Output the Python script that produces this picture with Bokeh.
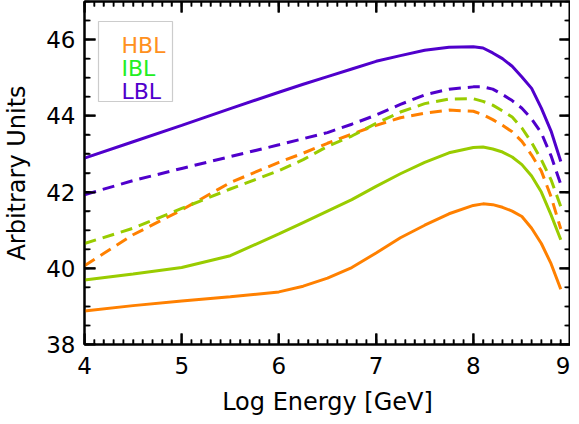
from bokeh.plotting import figure
from bokeh.models import (SingleIntervalTicker, Range1d, Label, BoxAnnotation,
                          LinearAxis, CustomJSTickFormatter)
from bokeh.embed import file_html
from bokeh.resources import INLINE

# ---- data ----
log_energy = [4.0, 4.5, 5.0, 5.5, 6.0, 6.25, 6.5, 6.75, 7.0, 7.25, 7.5, 7.75,
              8.0, 8.1, 8.2, 8.3, 8.4, 8.5, 8.6, 8.7, 8.8, 8.9]

hbl_solid = [38.88, 39.02, 39.14, 39.25, 39.38, 39.53, 39.74, 40.02, 40.40, 40.80,
             41.13, 41.43, 41.65, 41.69, 41.67, 41.60, 41.50, 41.36, 41.05, 40.65,
             40.12, 39.45]
ibl_solid = [39.69, 39.85, 40.02, 40.33, 40.90, 41.20, 41.50, 41.80, 42.15, 42.48,
             42.78, 43.03, 43.17, 43.18, 43.13, 43.05, 42.92, 42.72, 42.42, 42.00,
             41.40, 40.75]
lbl_solid = [42.89, 43.32, 43.75, 44.19, 44.62, 44.83, 45.03, 45.23, 45.43, 45.58,
             45.72, 45.80, 45.81, 45.78, 45.65, 45.50, 45.30, 45.02, 44.72, 44.20,
             43.60, 42.80]

hbl_dashed = [40.07, 40.88, 41.53, 42.25, 42.78, 43.02, 43.28, 43.52, 43.75, 43.95,
              44.07, 44.15, 44.12, 44.03, 43.90, 43.75, 43.58, 43.33, 42.97, 42.55,
              41.88, 41.03]
ibl_dashed = [40.65, 41.05, 41.57, 42.08, 42.56, 42.85, 43.20, 43.47, 43.80, 44.10,
              44.32, 44.44, 44.45, 44.38, 44.28, 44.13, 43.97, 43.68, 43.30, 42.85,
              42.32, 41.62]
lbl_dashed = [41.93, 42.30, 42.62, 42.93, 43.24, 43.40, 43.56, 43.78, 44.02, 44.30,
              44.55, 44.70, 44.76, 44.76, 44.70, 44.56, 44.40, 44.20, 43.92, 43.55,
              42.95, 42.20]

series_names = ["HBL", "IBL", "LBL"]
line_colors = ["#FF8000", "#99CC00", "#5000CC"]
legend_colors = ["#FF9020", "#22EE22", "#5000CC"]

# axis ticks
x_major_ticks = [4, 5, 6, 7, 8, 9]
y_major_ticks = [38, 40, 42, 44, 46]
x_minor_step = 0.1
y_minor_step = 0.5
X_MIN, X_MAX = 4, 9
Y_MIN, Y_MAX = 38, 47

FONT = "DejaVu Sans"
FRAME_W, FRAME_H = 486, 343
NAN = float("nan")

p = figure(frame_width=FRAME_W, frame_height=FRAME_H, x_range=Range1d(X_MIN, X_MAX),
           y_range=Range1d(Y_MIN, Y_MAX),
           output_backend="svg", toolbar_location=None,
           min_border_left=77, min_border_right=0, min_border_top=1,
           min_border_bottom=0)
p.background_fill_color = "white"
p.border_fill_color = "white"
p.outline_line_color = "black"
p.outline_line_width = 2
p.xgrid.visible = False
p.ygrid.visible = False

def style_ticks(ax):
    ax.major_tick_in = 11
    ax.major_tick_out = 0
    ax.minor_tick_in = 5
    ax.minor_tick_out = 0
    ax.major_tick_line_color = "black"
    ax.minor_tick_line_color = "black"
    ax.major_tick_line_width = 2
    ax.minor_tick_line_width = 1.5
    ax.axis_line_color = "black"
    ax.axis_line_width = 2

p.xaxis.ticker = SingleIntervalTicker(interval=1, num_minor_ticks=10)
p.yaxis.ticker = SingleIntervalTicker(interval=2, num_minor_ticks=4)
for ax in (p.xaxis[0], p.yaxis[0]):
    ax.major_label_text_font = FONT
    ax.major_label_text_font_size = "23px"
    ax.major_label_text_color = "black"
    ax.axis_label_text_font = FONT
    ax.axis_label_text_font_size = "24px"
    ax.axis_label_text_font_style = "normal"
    ax.axis_label_text_color = "black"
    style_ticks(ax)

p.xaxis.axis_label = "Log Energy [GeV]"
p.yaxis.axis_label = "Arbitrary Units"
p.xaxis.major_label_standoff = 12
p.yaxis.major_label_standoff = 9
p.xaxis.axis_label_standoff = 11
p.yaxis.axis_label_standoff = 12

# mirrored tick axes on top and right (no labels)
for loc, interval, nminor in (("above", 1, 10), ("right", 2, 4)):
    ax = LinearAxis(ticker=SingleIntervalTicker(interval=interval,
                                                num_minor_ticks=nminor),
                    formatter=CustomJSTickFormatter(code="return ''"),
                    major_label_standoff=0)
    style_ticks(ax)
    p.add_layout(ax, loc)

# tick marks also drawn as line paths (inward, all four sides)
def frange(a, b, step):
    n = int(round((b - a) / step))
    return [a + i * step for i in range(n + 1)]

x_minor = [v for v in frange(X_MIN, X_MAX, x_minor_step)
           if all(abs(v - m) > 1e-6 for m in x_major_ticks)]
y_minor = [v for v in frange(Y_MIN, Y_MAX, y_minor_step)
           if all(abs(v - m) > 1e-6 for m in y_major_ticks)]

px_x = (X_MAX - X_MIN) / FRAME_W   # data units per pixel
px_y = (Y_MAX - Y_MIN) / FRAME_H

def xtick_path(xticks, ln):
    xs, ys = [], []
    for t in xticks:
        xs += [t, t, NAN, t, t, NAN]
        ys += [Y_MIN, Y_MIN + ln * px_y, NAN, Y_MAX, Y_MAX - ln * px_y, NAN]
    return xs, ys

def ytick_path(yticks, ln):
    xs, ys = [], []
    for t in yticks:
        xs += [X_MIN, X_MIN + ln * px_x, NAN, X_MAX, X_MAX - ln * px_x, NAN]
        ys += [t, t, NAN, t, t, NAN]
    return xs, ys

for (xs, ys), w in ((xtick_path(x_major_ticks, 11), 2),
                    (xtick_path(x_minor, 5), 1.5),
                    (ytick_path(y_major_ticks, 11), 2),
                    (ytick_path(y_minor, 6), 1.5)):
    p.line(xs, ys, line_color="black", line_width=w)

solids = [hbl_solid, ibl_solid, lbl_solid]
dashes = [hbl_dashed, ibl_dashed, lbl_dashed]
for ys, c in zip(dashes, line_colors):
    p.line(log_energy, ys, line_color=c, line_width=3, line_dash="12 7")
for ys, c in zip(solids, line_colors):
    p.line(log_energy, ys, line_color=c, line_width=3)

box = BoxAnnotation(left=14, right=88, bottom=243, top=323,
                    left_units="screen", right_units="screen",
                    bottom_units="screen", top_units="screen",
                    fill_color=None, line_color="#555555", line_width=1.2)
p.add_layout(box)
baselines = [299, 276, 253]
for name, col, yb in zip(series_names, legend_colors, baselines):
    p.add_layout(Label(x=37, y=yb, x_units="screen", y_units="screen", text=name,
                       text_color=col, text_font=FONT, text_font_size="22px",
                       text_baseline="alphabetic"))

open("out.html", "w").write(file_html(p, INLINE))
